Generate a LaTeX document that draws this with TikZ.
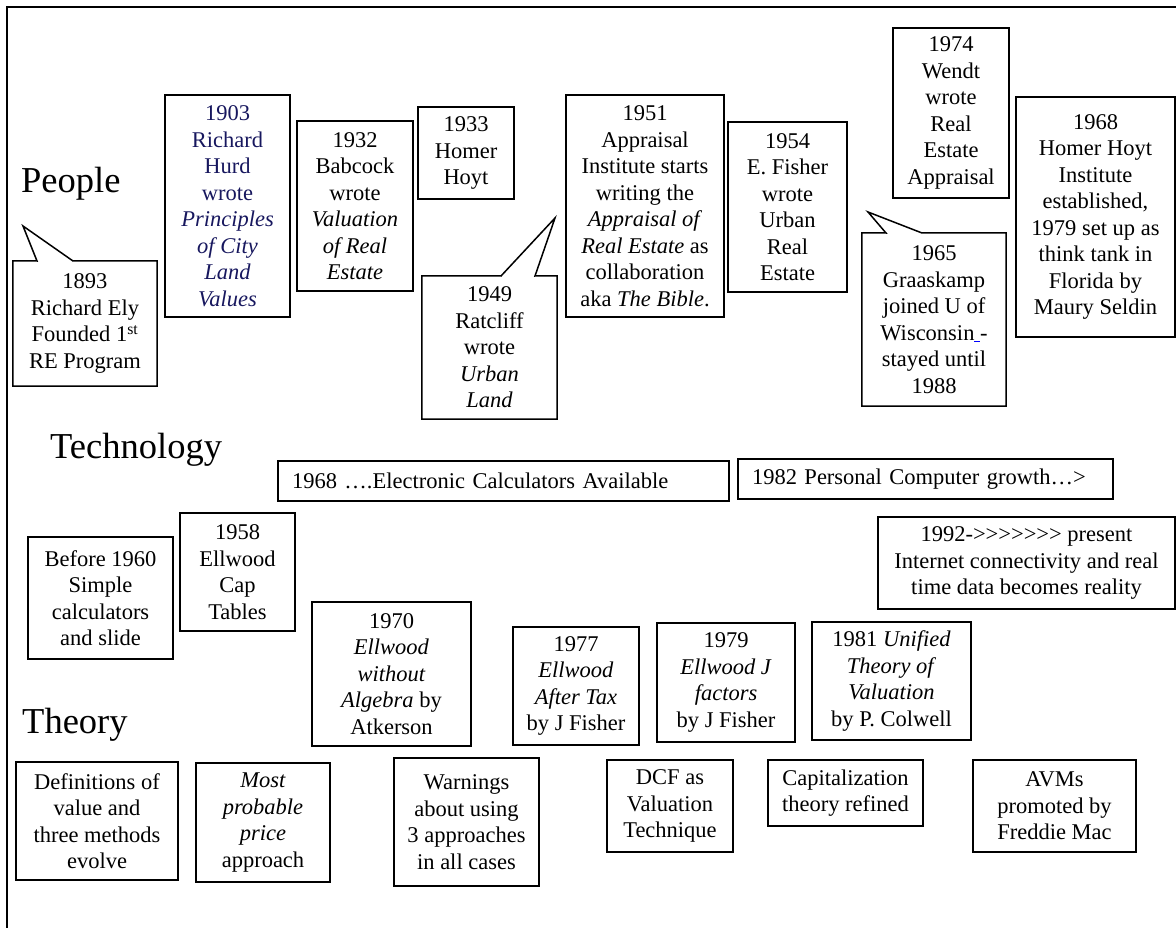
\documentclass[tikz,border=0pt]{standalone}
\usepackage{fontspec}
\setmainfont{Liberation Serif}[Ligatures=TeXOff]
\definecolor{hurdblue}{RGB}{23,23,94}
\newcommand{\boxfont}{\fontsize{22.5}{26.5}\selectfont}
\newcommand{\rowfont}{\fontsize{36.5}{42}\selectfont}

\begin{document}
\begin{tikzpicture}[x=1pt,y=-1pt,
	evbox/.style={draw,line width=1.5pt,align=center,inner sep=0pt,font=\boxfont},
	callbox/.style={align=center,inner sep=0pt,font=\boxfont},
	calltail/.style={line width=1.5pt},
	rowlabel/.style={anchor=base west,inner sep=0pt,font=\rowfont}]
	\useasboundingbox (0,0) rectangle (1176,928);
	\draw[line width=1.8pt] (7,928) -- (7,7) -- (1176,7);

	\node[rowlabel] (people) at (21,193) {People};
	\node[rowlabel] (technology) at (50,458) {Technology};
	\node[rowlabel] (theory) at (22,733) {Theory};

	% people
	\node[callbox,minimum width=144,minimum height=125] (ely) at (85,323.5) {1893\\Richard Ely\\Founded 1\textsuperscript{st}\\RE Program};
	\coordinate (elyL) at (37,261);
	\coordinate (elytip) at (23,226);
	\coordinate (elyR) at (73,261);
	\draw[calltail] (ely.north west) -- (elyL) -- (elytip) -- (elyR) -- (ely.north east) -- (ely.south east) -- (ely.south west) -- cycle;
	\node[evbox,text=hurdblue,minimum width=125,minimum height=222] (hurd) at (227.5,206) {1903\\Richard\\Hurd\\wrote\\\textit{Principles}\\\textit{of City}\\\textit{Land}\\\textit{Values}};
	\node[evbox,minimum width=116,minimum height=170] (babcock) at (355,206) {1932\\Babcock\\wrote\\\textit{Valuation}\\\textit{of Real}\\\textit{Estate}};
	\node[evbox,minimum width=96,minimum height=92] (hoyt) at (466,153) {1933\\Homer\\Hoyt};
	\node[callbox,minimum width=135,minimum height=143] (ratcliff) at (489.5,347.5) {1949\\Ratcliff\\wrote\\\textit{Urban}\\\textit{Land}};
	\coordinate (ratcliffL) at (501,276);
	\coordinate (ratclifftip) at (555,218);
	\coordinate (ratcliffR) at (535,276);
	\draw[calltail] (ratcliff.north west) -- (ratcliffL) -- (ratclifftip) -- (ratcliffR) -- (ratcliff.north east) -- (ratcliff.south east) -- (ratcliff.south west) -- cycle;
	\node[evbox,minimum width=158,minimum height=222] (institute) at (645,206) {1951\\Appraisal\\Institute starts\\writing the\\\textit{Appraisal of}\\\textit{Real Estate} as\\collaboration\\aka \textit{The Bible}.};
	\node[evbox,minimum width=119,minimum height=170] (efisher) at (787.5,207) {1954\\E. Fisher\\wrote\\Urban\\Real\\Estate};
	\node[evbox,minimum width=116,minimum height=170] (wendt) at (951,113) {1974\\Wendt\\wrote\\Real\\Estate\\Appraisal};
	\node[evbox,minimum width=159,minimum height=240] (hhi) at (1095.5,217) {1968\\Homer Hoyt\\Institute\\established,\\1979 set up as\\think tank in\\Florida by\\Maury Seldin};
	\node[callbox,minimum width=144,minimum height=173] (graaskamp) at (934,319.5) {1965\\Graaskamp\\joined U of\\Wisconsin{\color{blue}\underline{\ }}-\\stayed until\\1988};
	\coordinate (graaskampL) at (886,233);
	\coordinate (graaskamptip) at (868,212);
	\coordinate (graaskampR) at (922,233);
	\draw[calltail] (graaskamp.north west) -- (graaskampL) -- (graaskamptip) -- (graaskampR) -- (graaskamp.north east) -- (graaskamp.south east) -- (graaskamp.south west) -- cycle;

	% technology
	\node[evbox,align=left,inner xsep=14,text width=423,minimum height=40] (calcs) at (503.5,481) {1968 ….Electronic Calculators Available};
	\node[evbox,align=left,inner xsep=14,text width=347,minimum height=40] (pc) at (925.5,479) {1982 Personal Computer growth…>};
	\node[evbox,minimum width=297,minimum height=92] (internet) at (1026.5,563) {1992->>>>>>> present\\Internet connectivity and real\\time data becomes reality};
	\node[evbox,minimum width=145,minimum height=122] (before) at (100.5,598) {Before 1960\\Simple\\calculators\\and slide};
	\node[evbox,minimum width=115,minimum height=118] (captables) at (237.5,572) {1958\\Ellwood\\Cap\\Tables};
	\node[evbox,minimum width=159,minimum height=144] (atkerson) at (391.5,674) {1970\\\textit{Ellwood}\\\textit{without}\\\textit{Algebra} by\\Atkerson};
	\node[evbox,minimum width=126,minimum height=118] (aftertax) at (576,686) {1977\\\textit{Ellwood}\\\textit{After Tax}\\by J Fisher};
	\node[evbox,minimum width=138,minimum height=119] (jfactors) at (726,682.5) {1979\\\textit{Ellwood J}\\\textit{factors}\\by J Fisher};
	\node[evbox,minimum width=159,minimum height=118] (unified) at (891.5,681) {1981 \textit{Unified}\\\textit{Theory of}\\\textit{Valuation}\\by P. Colwell};

	% theory
	\node[evbox,minimum width=162,minimum height=118] (definitions) at (97,821) {Definitions of\\value and\\three methods\\evolve};
	\node[evbox,minimum width=134,minimum height=119] (mostprob) at (263,822.5) {\textit{Most}\\\textit{probable}\\\textit{price}\\approach};
	\node[evbox,minimum width=145,minimum height=128] (warnings) at (466.5,822) {Warnings\\about using\\3 approaches\\in all cases};
	\node[evbox,minimum width=126,minimum height=92] (dcf) at (670,806) {DCF as\\Valuation\\Technique};
	\node[evbox,minimum width=155,minimum height=66] (capital) at (845.5,793) {Capitalization\\theory refined};
	\node[evbox,minimum width=163,minimum height=92] (avms) at (1054.5,806) {AVMs\\promoted by\\Freddie Mac};
\end{tikzpicture}
\end{document}
